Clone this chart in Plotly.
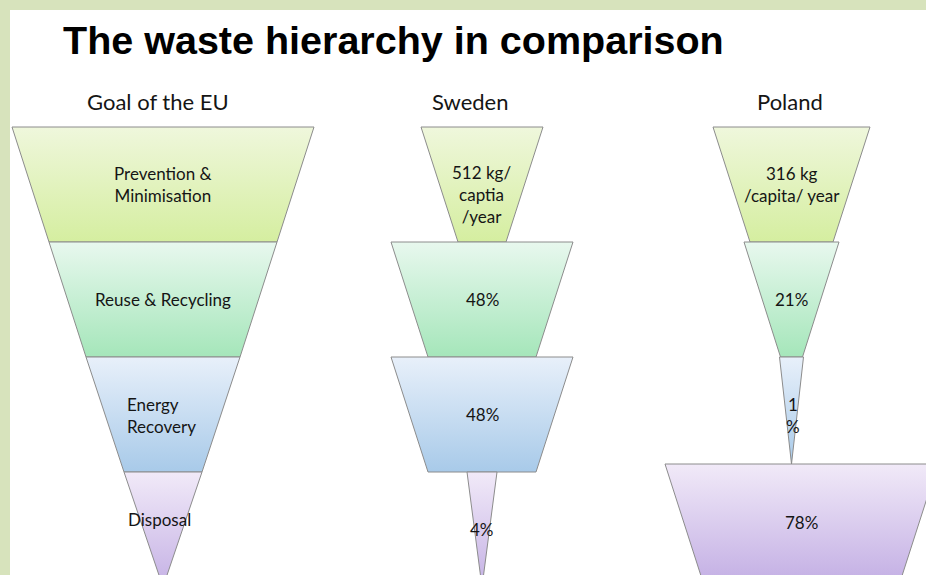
import plotly.graph_objects as go

# ---------------- data ----------------
title = "The waste hierarchy in comparison"
countries = ["Goal of the EU", "Sweden", "Poland"]
levels = ["Prevention & Minimisation", "Reuse & Recycling", "Energy Recovery", "Disposal"]

eu_labels = ["Prevention &<br>Minimisation", "Reuse & Recycling", "Energy<br>Recovery", "Disposal"]
sweden_labels = ["512 kg/<br>captia<br>/year", "48%", "48%", "4%"]
poland_labels = ["316 kg<br>/capita/ year", "21%", "1<br>%", "78%"]

# funnel band widths (top edge, bottom edge of each band)
eu_top = [302, 228, 154, 78]
eu_bottom = [228, 154, 78, 0]
sweden_top = [122, 182, 182, 30]
sweden_bottom = [48, 108, 108, 0]
poland_top = [157, 95, 24, 273]
poland_bottom = [83, 22, 0, 199]

# ---------------- layout / styling ----------------
W, H = 926, 575
BORDER = "#d7e3bc"
band_edges = {
    "Goal of the EU": [127, 242, 357, 472, 587],
    "Sweden": [127, 242, 357, 472, 587],
    "Poland": [127, 242, 357, 464, 579],
}
centers = {
    "Goal of the EU": [163, 163, 163, 163],
    "Sweden": [482, 482, 482, 482],
    "Poland": [791.5, 791.5, 791.5, 801.5],
}
header_x = {"Goal of the EU": 158, "Sweden": 470, "Poland": 790}
# label placement tweaks (dx, dy from band centre)
label_shift = {
    ("Goal of the EU", 2): (-2, 1),
    ("Goal of the EU", 3): (-4, -10),
    ("Sweden", 0): (-1, 10),
    ("Sweden", 3): (0, 0),
    ("Poland", 2): (1, 5),
    ("Poland", 3): (0, 1),
}
label_align = {("Goal of the EU", 2): "left"}

band_colors = [
    ("#eff7dc", "#d5eea0"),
    ("#e8f8ee", "#a5e6ba"),
    ("#e8f0fa", "#a8cae9"),
    ("#f1eaf8", "#c5b1e5"),
]
OUTLINE = "#8c8c8c"
LABEL_FONT = dict(family="Lato, 'Open Sans', sans-serif", size=17, color="#151515")
HEADER_FONT = dict(family="Lato, 'Open Sans', sans-serif", size=22, color="#151515")
TITLE_FONT = dict(family="'Liberation Sans', Arial, sans-serif", size=39.5, color="#000000")

series = {
    "Goal of the EU": (eu_top, eu_bottom, eu_labels),
    "Sweden": (sweden_top, sweden_bottom, sweden_labels),
    "Poland": (poland_top, poland_bottom, poland_labels),
}

fig = go.Figure()
annotations = []

for country in countries:
    tops, bottoms, labels = series[country]
    edges = band_edges[country]
    for i, level in enumerate(levels):
        cx = centers[country][i]
        y0, y1 = edges[i], edges[i + 1]
        wt, wb = tops[i], bottoms[i]
        xs = [cx - wt / 2, cx + wt / 2, cx + wb / 2, cx - wb / 2, cx - wt / 2]
        ys = [y0, y0, y1, y1, y0]
        c0, c1 = band_colors[i]
        fig.add_trace(go.Scatter(
            x=xs, y=ys, mode="lines", fill="toself",
            fillgradient=dict(type="vertical", colorscale=[[0, c0], [1, c1]],
                              start=y0, stop=y1),
            line=dict(color=OUTLINE, width=1),
            name=f"{country} – {level}", hoverinfo="name", showlegend=False,
        ))
        dx, dy = label_shift.get((country, i), (0, 0))
        align = label_align.get((country, i), "center")
        annotations.append(dict(
            x=cx + dx, y=(y0 + y1) / 2 + dy, xref="x", yref="y",
            text=labels[i], showarrow=False, font=LABEL_FONT, align=align,
            xanchor="center", yanchor="middle",
        ))
    annotations.append(dict(
        x=header_x[country], y=101, xref="x", yref="y", text=country,
        showarrow=False, font=HEADER_FONT, xanchor="center", yanchor="middle",
    ))

annotations.append(dict(
    x=61, y=40, xref="x", yref="y", text=f"<b>{title}</b>", showarrow=False,
    font=TITLE_FONT, xanchor="left", yanchor="middle",
))

fig.update_layout(
    width=W, height=H,
    margin=dict(l=10, r=0, t=10, b=0),
    paper_bgcolor=BORDER, plot_bgcolor="#ffffff",
    xaxis=dict(range=[10, W], visible=False, fixedrange=True),
    yaxis=dict(range=[H, 10], visible=False, fixedrange=True),
    annotations=annotations,
    showlegend=False,
)

fig.write_html(
    "out.html",
    config={"displayModeBar": False},
    post_script="document.body.style.margin='0';document.body.style.overflow='hidden';",
)
